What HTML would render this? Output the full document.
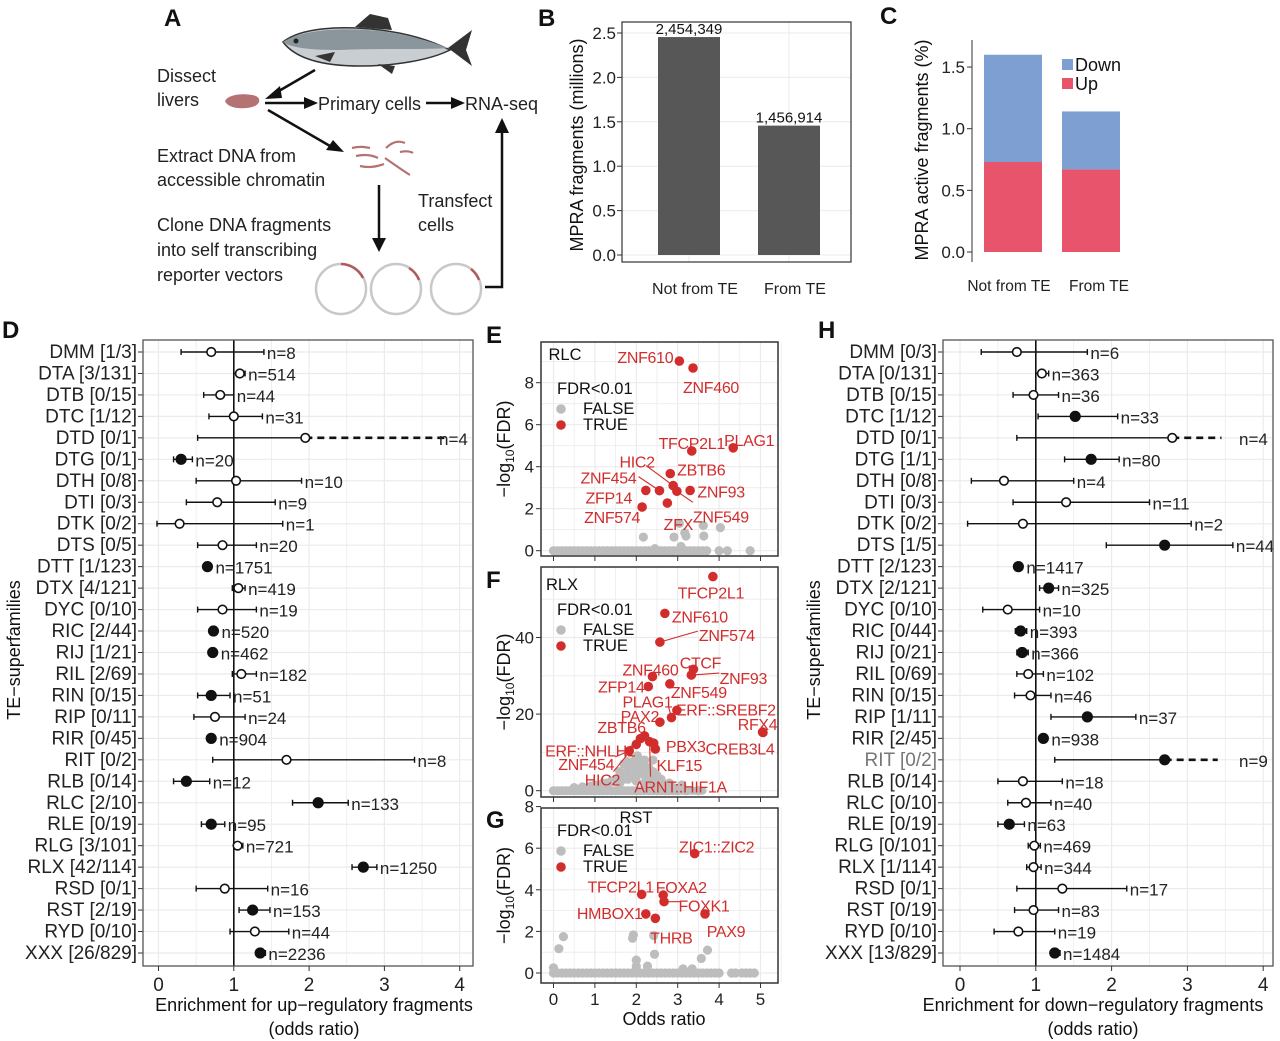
<!DOCTYPE html>
<html><head><meta charset="utf-8">
<style>
html,body{margin:0;padding:0;background:#fff;}
svg{display:block;font-family:"Liberation Sans",sans-serif;}
</style></head>
<body>
<svg id="fig" width="1280" height="1041" viewBox="0 0 1280 1041" xmlns="http://www.w3.org/2000/svg">
<g font-weight="bold" font-size="24" fill="#111">
<text x="164" y="26">A</text>
<text x="538" y="26">B</text>
<text x="880" y="24">C</text>
<text x="2" y="338">D</text>
<text x="486" y="343">E</text>
<text x="486" y="588">F</text>
<text x="486" y="828">G</text>
<text x="818" y="338">H</text>
</g>
<g id="panelA" font-size="18" fill="#222">
<g>
<path d="M283,42 C300,28 340,25 380,30 C405,33 430,40 450,50 C430,60 395,66 360,66 C320,66 295,58 283,42 Z" fill="#c8ced2" stroke="#333" stroke-width="1.5"/>
<path d="M283,42 C300,30 340,27 380,31 C405,34 430,41 448,48 C420,50 380,48 340,50 C310,50 292,48 283,42 Z" fill="#8a959c"/>
<path d="M448,48 L472,30 L466,50 L472,66 Z" fill="#333"/>
<path d="M355,27 L370,14 L388,18 L392,30 Z" fill="#333"/>
<path d="M315,56 L335,52 L330,62 Z" fill="#333"/>
<path d="M378,64 L395,66 L392,74 Z" fill="#333"/>
<circle cx="296" cy="41" r="2.5" fill="#222"/>
</g>
<text x="157" y="82">Dissect</text>
<text x="157" y="106">livers</text>
<path d="M225,101 C228,95 240,93 252,95 C260,96 262,102 255,106 C245,110 228,109 225,101 Z" fill="#b57272"/>
<g stroke="#111" stroke-width="2.5" fill="none">
<line x1="315" y1="70" x2="272" y2="95"/>
<line x1="265" y1="103" x2="306" y2="103"/>
<line x1="426" y1="103" x2="452" y2="103"/>
<line x1="268" y1="110" x2="330" y2="146"/>
<line x1="379" y1="185" x2="379" y2="240"/>
<polyline points="485,287 502,287 502,130"/>
</g>
<g fill="#111">
<polygon points="265,99 280,86 282,98"/>
<polygon points="318,103 304,97 304,109"/>
<polygon points="465,103 451,97 451,109"/>
<polygon points="344,152 326,150 333,140"/>
<polygon points="379,252 372,238 386,238"/>
<polygon points="502,118 495,133 509,133"/>
</g>
<text x="318" y="110">Primary cells</text>
<text x="465" y="110">RNA-seq</text>
<text x="157" y="162">Extract DNA from</text>
<text x="157" y="186">accessible chromatin</text>
<g stroke="#b57272" stroke-width="2.2" fill="none">
<path d="M352,148 C360,146 365,147 370,148"/><path d="M356,156 C365,154 372,155 378,158"/>
<path d="M360,166 C368,168 376,167 384,164"/><path d="M386,148 C392,142 398,140 405,143"/>
<path d="M385,158 C395,165 402,170 410,175"/><path d="M400,152 C405,151 410,151 413,153"/>
</g>
<text x="418" y="207">Transfect</text>
<text x="418" y="231">cells</text>
<text x="157" y="231">Clone DNA fragments</text>
<text x="157" y="256">into self transcribing</text>
<text x="157" y="281">reporter vectors</text>
<g fill="none" stroke-width="2.5">
<circle cx="341" cy="289" r="25" stroke="#c8c8c8"/><path d="M341,264 A25,25 0 0 1 363,278" stroke="#b05a5a"/>
<circle cx="396" cy="289" r="25" stroke="#c8c8c8"/><path d="M409,268 A25,25 0 0 1 419,280" stroke="#b05a5a"/>
<circle cx="456" cy="289" r="25" stroke="#c8c8c8"/><path d="M471,269 A25,25 0 0 1 479,280" stroke="#b05a5a"/>
</g>
</g>
<g id="panelB"></g>
<g id="panelC"></g>
<g id="panelD"></g>
<g id="panelH"></g>
<g id="panelE"></g>
<g id="panelF"></g>
<g id="panelG"></g>
</svg>
<script>
const bCategories = ["Not from TE", "From TE"];
const bValues = [2.454349, 1.456914];
const bValueLabels = ["2,454,349", "1,456,914"];
const bTicks = [0, 0.5, 1.0, 1.5, 2.0, 2.5];
const bTickLabels = ["0.0", "0.5", "1.0", "1.5", "2.0", "2.5"];
const cCategories = ["Not from TE", "From TE"];
const cUp = [0.73, 0.67];
const cDown = [0.87, 0.47];
const cTicks = [0, 0.5, 1.0, 1.5];
const cTickLabels = ["0.0", "0.5", "1.0", "1.5"];
const upLabels = ["DMM [1/3]","DTA [3/131]","DTB [0/15]","DTC [1/12]","DTD [0/1]","DTG [0/1]","DTH [0/8]","DTI [0/3]","DTK [0/2]","DTS [0/5]","DTT [1/123]","DTX [4/121]","DYC [0/10]","RIC [2/44]","RIJ [1/21]","RIL [2/69]","RIN [0/15]","RIP [0/11]","RIR [0/45]","RIT [0/2]","RLB [0/14]","RLC [2/10]","RLE [0/19]","RLG [3/101]","RLX [42/114]","RSD [0/1]","RST [2/19]","RYD [0/10]","XXX [26/829]"];
const upEst = [0.7,1.08,0.82,1.0,1.95,0.3,1.03,0.78,0.28,0.85,0.65,1.06,0.85,0.73,0.72,1.1,0.7,0.75,0.7,1.7,0.37,2.12,0.7,1.05,2.72,0.88,1.25,1.28,1.35];
const upLo = [0.3,1.0,0.6,0.67,0.52,0.2,0.5,0.37,-0.02,0.52,0.62,0.98,0.52,0.68,0.67,0.98,0.52,0.47,0.66,0.72,0.2,1.78,0.57,1.0,2.57,0.5,1.07,0.95,1.3];
const upHi = [1.4,1.15,1.0,1.38,3.8,0.45,1.9,1.55,1.65,1.3,0.68,1.15,1.3,0.78,0.77,1.3,0.95,1.15,0.74,3.4,0.68,2.52,0.88,1.12,2.9,1.45,1.48,1.73,1.42];
const upFilled = [0,0,0,0,0,1,0,0,0,0,1,0,0,1,1,0,1,0,1,0,1,1,1,0,1,0,1,0,1];
const upDashed = [0,0,0,0,1,0,0,0,0,0,0,0,0,0,0,0,0,0,0,0,0,0,0,0,0,0,0,0,0];
const upN = [8,514,44,31,4,20,10,9,1,20,1751,419,19,520,462,182,51,24,904,8,12,133,95,721,1250,16,153,44,2236];
const downLabels = ["DMM [0/3]","DTA [0/131]","DTB [0/15]","DTC [1/12]","DTD [0/1]","DTG [1/1]","DTH [0/8]","DTI [0/3]","DTK [0/2]","DTS [1/5]","DTT [2/123]","DTX [2/121]","DYC [0/10]","RIC [0/44]","RIJ [0/21]","RIL [0/69]","RIN [0/15]","RIP [1/11]","RIR [2/45]","RIT [0/2]","RLB [0/14]","RLC [0/10]","RLE [0/19]","RLG [0/101]","RLX [1/114]","RSD [0/1]","RST [0/19]","RYD [0/10]","XXX [13/829]"];
const downEst = [0.75,1.08,0.97,1.52,2.8,1.73,0.58,1.4,0.83,2.7,0.77,1.17,0.63,0.8,0.82,0.9,0.93,1.68,1.1,2.7,0.83,0.87,0.65,0.98,0.97,1.35,0.97,0.77,1.25];
const downLo = [0.28,1.0,0.7,1.03,0.75,1.38,0.15,0.7,0.1,1.93,0.73,1.05,0.3,0.73,0.75,0.75,0.72,1.2,1.05,1.25,0.5,0.63,0.5,0.9,0.88,0.75,0.72,0.45,1.2];
const downHi = [1.68,1.17,1.3,2.08,3.45,2.1,1.5,2.5,3.05,3.6,0.8,1.3,1.05,0.88,0.9,1.1,1.2,2.32,1.15,3.4,1.35,1.2,0.85,1.06,1.07,2.2,1.3,1.25,1.32];
const downFilled = [0,0,0,1,0,1,0,0,0,1,1,1,0,1,1,0,0,1,1,1,0,0,1,0,0,0,0,0,1];
const downDashed = [0,0,0,0,1,0,0,0,0,0,0,0,0,0,0,0,0,0,0,1,0,0,0,0,0,0,0,0,0];
const downN = [6,363,36,33,4,80,4,11,2,44,1417,325,10,393,366,102,46,37,938,9,18,40,63,469,344,17,83,19,1484];
const forestTicks = [0,1,2,3,4];
const eRedNames = ["ZNF610","ZNF460","PLAG1","TFCP2L1","ZBTB6","HIC2","ZNF454","ZFP14","ZNF93","ZNF549","ZFX","ZNF574"];
const eRedX = [3.04,3.37,4.34,3.34,2.82,2.89,2.56,2.23,3.3,2.98,2.75,2.14];
const eRedY = [9.03,8.7,4.9,4.75,3.67,3.1,2.86,2.87,2.87,2.83,2.27,2.08];
const eGrayX = [0,0.1,0.2,0.3,0.4,0.5,0.6,0.7,0.8,0.9,1.0,1.1,1.2,1.3,1.4,1.5,1.6,1.7,1.8,1.9,2.0,2.1,2.2,2.3,2.4,2.5,2.6,2.7,2.8,2.9,3.0,3.1,3.2,3.3,3.4,3.5,3.6,3.7,4.0,4.2,4.75,2.17,2.91,3.04,3.17,3.2,3.62,3.63,4.03,2.45,3.08];
const eGrayY = [0,0,0,0,0,0,0,0,0,0,0,0,0,0,0,0,0,0,0,0,0,0,0,0,0,0,0,0,0,0,0,0,0,0,0,0,0,0,0,0,0,0.65,0.65,1.3,0.85,0.7,1.2,0.7,1.1,0.1,0.2];
const eYTicks = [0,2,4,6,8];
const fRedNames = ["TFCP2L1","ZNF610","ZNF574","CTCF","ZNF93","ZNF460","ZNF549","ZFP14","ERF::SREBF2","PLAG1","PAX2","RFX4","CREB3L4","ZBTB6","PBX3","ERF::NHLH1","ZNF454","KLF15","HIC2","ARNT::HIF1A"];
const fRedX = [3.85,2.69,2.57,3.38,3.33,2.39,2.81,2.29,2.98,2.85,2.57,5.05,5.06,2.2,2.42,2.0,1.83,2.46,2.1,2.32];
const fRedY = [55.9,46.3,38.8,31.7,30.2,29.8,27.9,27.2,21.0,19.1,17.9,15.3,15.2,14.3,12.4,12.1,10.4,10.9,13.6,12.8];
const fGrayX = [0,0.1,0.2,0.3,0.4,0.5,0.6,0.7,0.8,0.9,1.0,1.1,1.2,1.3,1.4,1.5,1.6,1.7,1.8,1.9,2.0,2.1,2.2,2.3,2.4,2.5,2.6,2.7,2.8,2.9,3.0,3.2,3.5,1.0,1.2,1.4,1.5,1.6,1.7,1.8,1.9,2.0,2.1,2.2,2.3,2.4,2.5,2.6,1.3,1.6,1.8,2.0,2.2,2.4,1.78,2.03,2.4,1.1,0.8,2.7,2.9,3.1,0.5,0.7,0.9,1.1,1.3,1.5,1.7,1.9,2.1,2.3,2.5,2.7,1.6,1.8,2.0,2.2,2.4,1.7,1.9,2.1,2.3,2.0,2.2,1.85,2.15,2.5,2.6,2.8];
const fGrayY = [0,0,0,0,0,0,0,0,0,0,0,0,0,0,0,0,0,0,0,0,0,0,0,0,0,0,0,0,0,0,0,0,0,1.5,2,2.5,3,3.5,4,4.5,5,5,4.5,4,3.5,3,2.5,2,1,2,3,2.5,2,1.5,7.6,9.1,8.0,0.8,0.5,1.2,0.8,1.5,0.8,1,1.2,1.5,2,2.5,3,4,4.5,3.5,2.5,1.5,5,6,6.5,6,5,7,7.5,7,6,8.5,8,6,6.5,4,3,2];
const fYTicks = [0,20,40];
const gRedNames = ["ZIC1::ZIC2","TFCP2L1","FOXA2","FOXK1","HMBOX1","THRB","PAX9"];
const gRedX = [3.41,2.13,2.65,2.67,2.23,2.46,3.66];
const gRedY = [5.74,3.78,3.75,3.43,2.84,2.63,2.84];
const gGrayX = [0,0.1,0.2,0.3,0.4,0.5,0.6,0.7,0.8,0.9,1.0,1.1,1.2,1.3,1.4,1.5,1.6,1.7,1.8,1.9,2.0,2.1,2.2,2.3,2.4,2.5,2.6,2.7,2.8,2.9,3.0,3.1,3.2,3.3,3.4,3.5,3.6,3.7,3.8,3.9,4.0,4.3,4.4,4.55,4.65,4.75,4.85,0.13,0.24,1.93,1.91,2.42,2.0,2.0,2.44,2.27,3.72,3.57,0.0,3.13,3.35];
const gGrayY = [0,0,0,0,0,0,0,0,0,0,0,0,0,0,0,0,0,0,0,0,0,0,0,0,0,0,0,0,0,0,0,0,0,0,0,0,0,0,0,0,0,0,0,0,0,0,0,1.17,1.75,1.83,1.67,1.8,0.62,0.33,0.9,0.33,1.1,0.7,0.25,0.2,0.2];
const gYTicks = [0,2,4,6,8];
const scatterXTicks = [0,1,2,3,4,5];

const NS = "http://www.w3.org/2000/svg";
function mk(tag, attrs, parent, text) {
  const el = document.createElementNS(NS, tag);
  for (const k in attrs) el.setAttribute(k, attrs[k]);
  if (text !== undefined) el.textContent = text;
  parent.appendChild(el);
  return el;
}
const GRID = "#ebebeb";

(function(){
  const g = document.getElementById("panelB");
  const L=622,R=851,T=22,B=262, y0=255, ppu=88.8;
  const ys = v => y0 - v*ppu;
  const xc = [689, 789];
  let el;
  el = mk("rect",{x:L,y:T,width:R-L,height:B-T,fill:"#fff"},g);
  
  
  bTicks.forEach((t,i)=>{
    el = mk("line",{x1:L,x2:R,y1:ys(t),y2:ys(t),stroke:GRID,"stroke-width":1},g);
    
    
    el = mk("line",{x1:L-5,x2:L,y1:ys(t),y2:ys(t),stroke:"#333"},g);
    
    
    el = mk("text",{x:L-6,y:ys(t)+6,"text-anchor":"end","font-size":17,fill:"#222"},g,bTickLabels[i]);
    
    
  });
  xc.forEach(x=>{ el = mk("line",{x1:x,x2:x,y1:T,y2:B,stroke:GRID},g);  });
  bValues.forEach((v,i)=>{
    el = mk("rect",{x:xc[i]-31,y:ys(v),width:62,height:y0-ys(v),fill:"#575757"},g);
    
    
    el = mk("text",{x:xc[i],y:ys(v)-3,"text-anchor":"middle","font-size":15,fill:"#111"},g,bValueLabels[i]);
    
    
    el = mk("text",{x:xc[i]+6,y:294,"text-anchor":"middle","font-size":16,fill:"#222"},g,bCategories[i]);
    
    
  });
  el = mk("rect",{x:L,y:T,width:R-L,height:B-T,fill:"none",stroke:"#333","stroke-width":1.2},g);
  
  
  el = mk("text",{x:0,y:0,transform:"translate(583,145) rotate(-90)","text-anchor":"middle","font-size":18,fill:"#111"},g,"MPRA fragments (millions)");
  
  
})();

(function(){
  const g = document.getElementById("panelC");
  const L=972, y0=252, ppu=123.3;
  const ys = v => y0 - v*ppu;
  const xc = [1013, 1091];
  let el;
  cTicks.forEach((t,i)=>{
    el = mk("line",{x1:L-5,x2:L,y1:ys(t),y2:ys(t),stroke:"#333"},g);
    
    
    el = mk("text",{x:L-7,y:ys(t)+6,"text-anchor":"end","font-size":17,fill:"#222"},g,cTickLabels[i]);
    
    
  });
  cUp.forEach((u,i)=>{
    el = mk("rect",{x:xc[i]-29,y:ys(u),width:58,height:u*ppu,fill:"#e8546c"},g);
    
    
    el = mk("rect",{x:xc[i]-29,y:ys(u+cDown[i]),width:58,height:cDown[i]*ppu,fill:"#7d9fd2"},g);
    
    
    el = mk("text",{x:xc[i]+(i===0?-4:8),y:291,"text-anchor":"middle","font-size":15.5,fill:"#222"},g,cCategories[i]);
    
    
  });
  el = mk("line",{x1:L,x2:L,y1:40,y2:262,stroke:"#333"},g);
  
  
  el = mk("text",{x:0,y:0,transform:"translate(928,150) rotate(-90)","text-anchor":"middle","font-size":18,fill:"#111"},g,"MPRA active fragments (%)");
  
  
  el = mk("rect",{x:1062,y:59,width:11,height:11,fill:"#7d9fd2"},g);
   
  el = mk("text",{x:1075,y:71,"font-size":18,fill:"#111"},g,"Down");
   
  el = mk("rect",{x:1062,y:78,width:11,height:11,fill:"#e8546c"},g);
   
  el = mk("text",{x:1075,y:90,"font-size":18,fill:"#111"},g,"Up");
   
})();

function forest(gid, L, R, X0, ppu, labels, est, lo, hi, filled, dashed, ns, title, titleX, ytitleX, greyRow) {
  const g = document.getElementById(gid);
  const T=340, B=966, top=352, step=(953-352)/28;
  const xs = v => X0 + v*ppu;
  let el;
  el = mk("rect",{x:L,y:T,width:R-L,height:B-T,fill:"#fff"},g);
  
  
  for (let v=0; v<=4.5; v+=0.5) {
    if (xs(v) > R) continue;
    el = mk("line",{x1:xs(v),x2:xs(v),y1:T,y2:B,stroke:GRID,"stroke-width":v%1===0?1.2:0.8},g);
    
    
  }
  labels.forEach((lab,i)=>{
    const y = top + i*step;
    el = mk("line",{x1:L,x2:R,y1:y,y2:y,stroke:GRID,"stroke-width":1.2},g);
    
    
    el = mk("line",{x1:L-5,x2:L,y1:y,y2:y,stroke:"#333"},g);
    
    
    el = mk("text",{x:L-6,y:y+6,"text-anchor":"end","font-size":19,fill:(greyRow===i?"#777":"#222")},g,lab);
    
    
  });
  el = mk("line",{x1:xs(1),x2:xs(1),y1:T,y2:B,stroke:"#111","stroke-width":1.6},g);
  
  
  labels.forEach((lab,i)=>{
    const y = top + i*step;
    const x1 = xs(lo[i]);
    if (dashed[i]) {
      el = mk("line",{x1:x1,x2:xs(est[i]),y1:y,y2:y,stroke:"#111","stroke-width":1.4},g);
      
      
      el = mk("line",{x1:xs(est[i]),x2:xs(hi[i]),y1:y,y2:y,stroke:"#111","stroke-width":2.6,"stroke-dasharray":"7,5"},g);
      
      
    } else {
      el = mk("line",{x1:x1,x2:xs(hi[i]),y1:y,y2:y,stroke:"#111","stroke-width":1.4},g);
      
      
      el = mk("line",{x1:xs(hi[i]),x2:xs(hi[i]),y1:y-3,y2:y+3,stroke:"#111","stroke-width":1.4},g);
      
      
    }
    el = mk("line",{x1:x1,x2:x1,y1:y-3,y2:y+3,stroke:"#111","stroke-width":1.4},g);
    
    
    el = mk("circle",{cx:xs(est[i]),cy:y,r:filled[i]?4.8:4.3,fill:filled[i]?"#111":"#fff",stroke:"#111","stroke-width":1.6},g);
    
    
    const nx = dashed[i] ? R-34 : Math.max(xs(hi[i]), xs(est[i])+5) + 3;
    el = mk("text",{x:nx,y:y+7,"font-size":17,fill:"#222"},g,"n="+ns[i]);
    
    
  });
  el = mk("rect",{x:L,y:T,width:R-L,height:B-T,fill:"none",stroke:"#555","stroke-width":1.3},g);
  
  
  forestTicks.forEach(t=>{
    el = mk("line",{x1:xs(t),x2:xs(t),y1:B,y2:B+5,stroke:"#333"},g);
    
    
    el = mk("text",{x:xs(t),y:B+25,"text-anchor":"middle","font-size":19,fill:"#222"},g,String(t));
    
    
  });
  el = mk("text",{x:titleX,y:1011,"text-anchor":"middle","font-size":18,fill:"#111"},g,title);
  
  
  el = mk("text",{x:titleX,y:1035,"text-anchor":"middle","font-size":18,fill:"#111"},g,"(odds ratio)");
  
  
  el = mk("text",{x:0,y:0,transform:"translate("+ytitleX+",650) rotate(-90)","text-anchor":"middle","font-size":18,fill:"#111"},g,"TE\u2212superfamilies");
  
  
}
forest("panelD",143,473,158.5,75.3,upLabels,upEst,upLo,upHi,upFilled,upDashed,upN,"Enrichment for up\u2212regulatory fragments",314,20,-1);
forest("panelH",943,1273,960,75.8,downLabels,downEst,downLo,downHi,downFilled,downDashed,downN,"Enrichment for down\u2212regulatory fragments",1093,820,19);

const eLab = {ZNF610:[-34,-3],ZNF460:[18,20],PLAG1:[16,-7],TFCP2L1:[0,-7],ZBTB6:[31,-3],HIC2:[-36,-23],ZNF454:[-51,-12],ZFP14:[-37,8],ZNF93:[31,2],ZNF549:[44,26],ZFX:[11,22],ZNF574:[-30,11]};
const eLead = {HIC2:[-27,-20],ZNF454:[-21,-14],ZNF549:[16,11]};
const fLab = {"TFCP2L1":[-2,17],"ZNF610":[35,4],"ZNF574":[67,-6],"CTCF":[7,-6],"ZNF93":[52,4],"ZNF460":[-2,-6],"ZNF549":[29,9],"ZFP14":[-27,1],"ERF::SREBF2":[49,0],"PLAG1":[-24,-15],"PAX2":[-20,-5],"RFX4":[-5,-7],"CREB3L4":[-23,17],"ZBTB6":[-23,-8],"PBX3":[32,4],"ERF::NHLH1":[-46,7],"ZNF454":[-43,14],"KLF15":[24,17],"HIC2":[-38,42],"ARNT::HIF1A":[31,46]};
const fLead = {"ZNF574":[38,-11],"ZNF93":[28,-2],"PLAG1":[-3,-11],"ZNF454":[-14,6],"HIC2":[-27,33],"ARNT::HIF1A":[1,35]};
const gLab = {"ZIC1::ZIC2":[22,-6],"TFCP2L1":[-21,-7],"FOXA2":[18,-7],"FOXK1":[40,5],"HMBOX1":[-36,0],"THRB":[16,20],"PAX9":[21,18]};
const gLead = {"FOXK1":[17,0]};

function scatter(gid, T, B, y0, ppuY, yTicks, grayX, grayY, redX, redY, redNames, lab, lead, name, nameX, nameY, legY, showXLabels) {
  const g = document.getElementById(gid);
  const L=541, R=778, X0=553.5, ppuX=41.4;
  const xs = v => X0 + v*ppuX, ys = v => y0 - v*ppuY;
  let el;
  el = mk("rect",{x:L,y:T,width:R-L,height:B-T,fill:"#fff"},g);
  
  
  for (let v=0; v<=5.5; v+=0.5) {
    el = mk("line",{x1:xs(v),x2:xs(v),y1:T,y2:B,stroke:GRID,"stroke-width":v%1===0?1.2:0.8},g);
    
    
  }
  const ystep = yTicks[1]-yTicks[0];
  for (let v=0; ys(v) > T; v+=ystep/2) {
    el = mk("line",{x1:L,x2:R,y1:ys(v),y2:ys(v),stroke:GRID,"stroke-width":(v%ystep===0)?1.2:0.8},g);
    
    
  }
  yTicks.forEach(t=>{
    el = mk("line",{x1:L-5,x2:L,y1:ys(t),y2:ys(t),stroke:"#333"},g);
    
    
    el = mk("text",{x:L-7,y:ys(t)+6,"text-anchor":"end","font-size":17,fill:"#222"},g,String(t));
    
    
  });
  scatterXTicks.forEach(t=>{
    el = mk("line",{x1:xs(t),x2:xs(t),y1:B,y2:B+5,stroke:"#333"},g);
    
    
    if (showXLabels) {
      el = mk("text",{x:xs(t),y:B+22,"text-anchor":"middle","font-size":17,fill:"#222"},g,String(t));
      
      
    }
  });
  grayX.forEach((x,i)=>{
    el = mk("circle",{cx:xs(x),cy:ys(grayY[i]),r:4.6,fill:"#bdbdbd"},g);
    
    
  });
  el = mk("line",{x1:xs(0),x2:xs(redNames.length>10?3.6:3.7),y1:ys(0),y2:ys(0),stroke:"#bdbdbd","stroke-width":8,"stroke-linecap":"round"},g);
  
  
  redX.forEach((x,i)=>{
    const px = xs(x), py = ys(redY[i]);
    const nm = redNames[i];
    if (lead[nm]) {
      el = mk("line",{x1:px,y1:py,x2:px+lead[nm][0],y2:py+lead[nm][1],stroke:"#d22d2d","stroke-width":1.1},g);
      
      
    }
    el = mk("circle",{cx:px,cy:py,r:4.8,fill:"#d22d2d"},g);
    
    
    const o = lab[nm] || [0,-8];
    el = mk("text",{x:px+o[0],y:py+o[1]+5,"text-anchor":"middle","font-size":16,fill:"#d22d2d","letter-spacing":"-0.3"},g,nm);
    
    
  });
  el = mk("rect",{x:L,y:T,width:R-L,height:B-T,fill:"none",stroke:"#333","stroke-width":1.5},g);
  
  
  el = mk("text",{x:nameX,y:nameY,"text-anchor":"middle","font-size":16.5,fill:"#111"},g,name);
  
  
  el = mk("text",{x:557,y:legY,"font-size":16.5,fill:"#111"},g,"FDR<0.01");
  
  
  el = mk("circle",{cx:561,cy:legY+15,r:4.8,fill:"#bdbdbd"},g);
  
  
  el = mk("text",{x:583,y:legY+20,"font-size":16.5,fill:"#111"},g,"FALSE");
  
  
  el = mk("circle",{cx:561,cy:legY+31,r:4.8,fill:"#d22d2d"},g);
  
  
  el = mk("text",{x:583,y:legY+36,"font-size":16.5,fill:"#111"},g,"TRUE");
  
  
  const cy = (T+B)/2;
  el = mk("text",{x:0,y:0,transform:"translate(510,"+cy+") rotate(-90)","text-anchor":"middle","font-size":18,fill:"#111"},g);
  
  
  const t1 = mk("tspan",{},el,"\u2212log");  
  const t2 = mk("tspan",{"font-size":12,dy:4},el,"10");  
  const t3 = mk("tspan",{dy:-4},el,"(FDR)");  
}
scatter("panelE",342,556,550.7,21,eYTicks,eGrayX,eGrayY,eRedX,eRedY,eRedNames,eLab,eLead,"RLC",565,360,394,false);
scatter("panelF",567,797,790.7,3.83,fYTicks,fGrayX,fGrayY,fRedX,fRedY,fRedNames,fLab,fLead,"RLX",562,590,615,false);
scatter("panelG",808,983,973,20.8,gYTicks,gGrayX,gGrayY,gRedX,gRedY,gRedNames,gLab,gLead,"RST",636,823,836,true);
(function(){
  const g = document.getElementById("panelG");
  const el = mk("text",{x:664,y:1025,"text-anchor":"middle","font-size":18,fill:"#111"},g,"Odds ratio");
  
  
})();
</script>
</body></html>
